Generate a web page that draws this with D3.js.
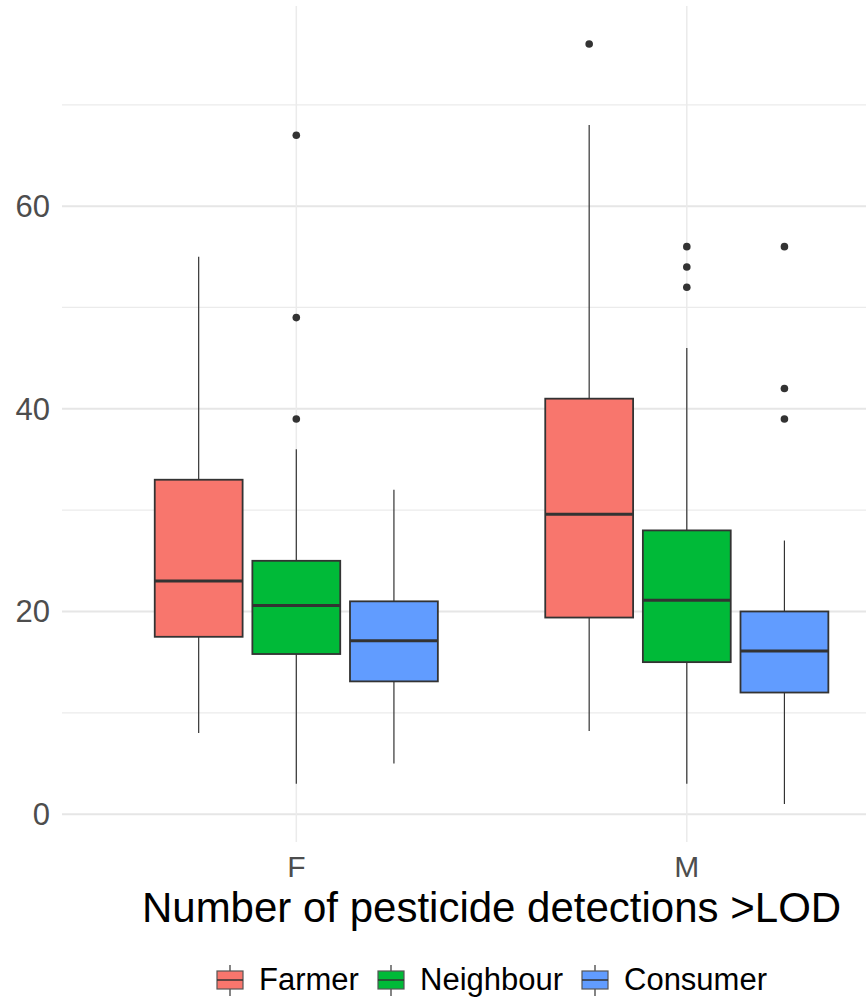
<!DOCTYPE html>
<html>
<head>
<meta charset="utf-8">
<script src="https://cdn.jsdelivr.net/npm/d3@7"></script>
<style>
  html, body { margin: 0; padding: 0; background: #fff; }
  svg { display: block; font-family: "Liberation Sans", Arial, sans-serif; }
</style>
</head>
<body>
<svg id="chart" width="866" height="997"></svg>
<script>
// Sex groups on the x axis and the three participant groups dodged within each
const sexes = ["F", "M"];
const groups = ["Farmer", "Neighbour", "Consumer"];
const groupColors = ["#F8766D", "#00BA38", "#619CFF"];

// Five-number summaries per sex, in group order: [lower whisker, Q1, median, Q3, upper whisker]
const statsF = [
  [8, 17.5, 23, 33, 55],
  [3, 15.8, 20.6, 25, 36],
  [5, 13.1, 17.1, 21, 32]
];
const statsM = [
  [8.2, 19.4, 29.6, 41, 68],
  [3, 15, 21.1, 28, 46],
  [1, 12, 16.1, 20, 27]
];
// Outlying values per sex, in group order
const outliersF = [[], [39, 49, 67], []];
const outliersM = [[76], [52, 54, 56], [39, 42, 56]];

const yTicks = [0, 20, 40, 60];
const yMinor = [10, 30, 50, 70];

const svg = d3.select("#chart");
const W = 866;

// Panel geometry
const panel = { left: 62, top: 6, bottom: 842 };
const y = d3.scaleLinear().domain([-2.75, 79.75]).range([panel.bottom, panel.top]);

// Discrete x: categories at 1 and 2 with 0.6 expansion on either side
const unit = 390.5;
const xCat = d3.scaleLinear().domain([0.4, 2.6]).range([panel.left, panel.left + 2.2 * unit]);
const xPos = { F: xCat(1), M: xCat(2) };
const dodge = d3.scaleBand().domain(groups).range([-0.375, 0.375]);
const boxW = 0.225;

const g = svg.append("g");

// Gridlines
g.selectAll("line.minor").data(yMinor).join("line")
  .attr("x1", panel.left).attr("x2", W)
  .attr("y1", d => y(d)).attr("y2", d => y(d))
  .attr("stroke", "#ebebeb").attr("stroke-width", 1.2);
g.selectAll("line.major").data(yTicks).join("line")
  .attr("x1", panel.left).attr("x2", W)
  .attr("y1", d => y(d)).attr("y2", d => y(d))
  .attr("stroke", "#e6e6e6").attr("stroke-width", 2);
g.selectAll("line.vmajor").data(sexes).join("line")
  .attr("x1", d => xPos[d]).attr("x2", d => xPos[d])
  .attr("y1", panel.top).attr("y2", panel.bottom)
  .attr("stroke", "#ebebeb").attr("stroke-width", 1.5);

// Y axis labels
g.selectAll("text.ylab").data(yTicks).join("text")
  .attr("x", 50).attr("y", d => y(d)).attr("dy", "0.35em")
  .attr("text-anchor", "end")
  .attr("font-size", 31).attr("fill", "#4d4d4d")
  .text(d => d);

// X axis labels
g.selectAll("text.xlab").data(sexes).join("text")
  .attr("x", d => xPos[d]).attr("y", 877)
  .attr("text-anchor", "middle")
  .attr("font-size", 30).attr("fill", "#4d4d4d")
  .text(d => d);

// Axis title
g.append("text")
  .attr("x", (panel.left + xCat(2.6)) / 2).attr("y", 922)
  .attr("text-anchor", "middle")
  .attr("font-size", 42).attr("fill", "#000")
  .text("Number of pesticide detections >LOD");

// Box plots
const allBoxes = [];
sexes.forEach((s, si) => {
  const stats = si === 0 ? statsF : statsM;
  const outs = si === 0 ? outliersF : outliersM;
  groups.forEach((grp, gi) => {
    const cx = xCat((si + 1) + dodge(grp) + dodge.bandwidth() / 2);
    allBoxes.push({ cx, st: stats[gi], out: outs[gi], color: groupColors[gi] });
  });
});

const half = boxW * unit / 2;
const bx = g.selectAll("g.box").data(allBoxes).join("g");
// whiskers
bx.append("line")
  .attr("x1", d => d.cx).attr("x2", d => d.cx)
  .attr("y1", d => y(d.st[3])).attr("y2", d => y(d.st[4]))
  .attr("stroke", "#333").attr("stroke-width", 1.2);
bx.append("line")
  .attr("x1", d => d.cx).attr("x2", d => d.cx)
  .attr("y1", d => y(d.st[0])).attr("y2", d => y(d.st[1]))
  .attr("stroke", "#333").attr("stroke-width", 1.2);
// box
bx.append("rect")
  .attr("x", d => d.cx - half).attr("width", half * 2)
  .attr("y", d => y(d.st[3])).attr("height", d => y(d.st[1]) - y(d.st[3]))
  .attr("fill", d => d.color).attr("stroke", "#333").attr("stroke-width", 1.8);
// median
bx.append("line")
  .attr("x1", d => d.cx - half).attr("x2", d => d.cx + half)
  .attr("y1", d => y(d.st[2])).attr("y2", d => y(d.st[2]))
  .attr("stroke", "#333").attr("stroke-width", 3);
// outliers
bx.selectAll("circle").data(d => d.out.map(v => ({ cx: d.cx, v }))).join("circle")
  .attr("cx", d => d.cx).attr("cy", d => y(d.v)).attr("r", 3.8)
  .attr("fill", "#333");

// Legend
const legendItems = [
  { name: groups[0], color: groupColors[0], kx: 217, tx: 259 },
  { name: groups[1], color: groupColors[1], kx: 378, tx: 420 },
  { name: groups[2], color: groupColors[2], kx: 582, tx: 624 }
];
const lg = g.selectAll("g.leg").data(legendItems).join("g");
const kw = 26, boxTop = 971, boxBot = 989;
lg.append("line")
  .attr("x1", d => d.kx + kw / 2).attr("x2", d => d.kx + kw / 2)
  .attr("y1", 965).attr("y2", 996)
  .attr("stroke", "#333").attr("stroke-width", 1.2);
lg.append("rect")
  .attr("x", d => d.kx).attr("y", boxTop)
  .attr("width", kw).attr("height", boxBot - boxTop)
  .attr("fill", d => d.color).attr("stroke", "#555").attr("stroke-width", 1.2);
lg.append("line")
  .attr("x1", d => d.kx).attr("x2", d => d.kx + kw)
  .attr("y1", (boxTop + boxBot) / 2).attr("y2", (boxTop + boxBot) / 2)
  .attr("stroke", "#333").attr("stroke-width", 1.5);
lg.append("text")
  .attr("x", d => d.tx).attr("y", 990)
  .attr("font-size", 31).attr("fill", "#000")
  .text(d => d.name);
</script>
</body>
</html>
